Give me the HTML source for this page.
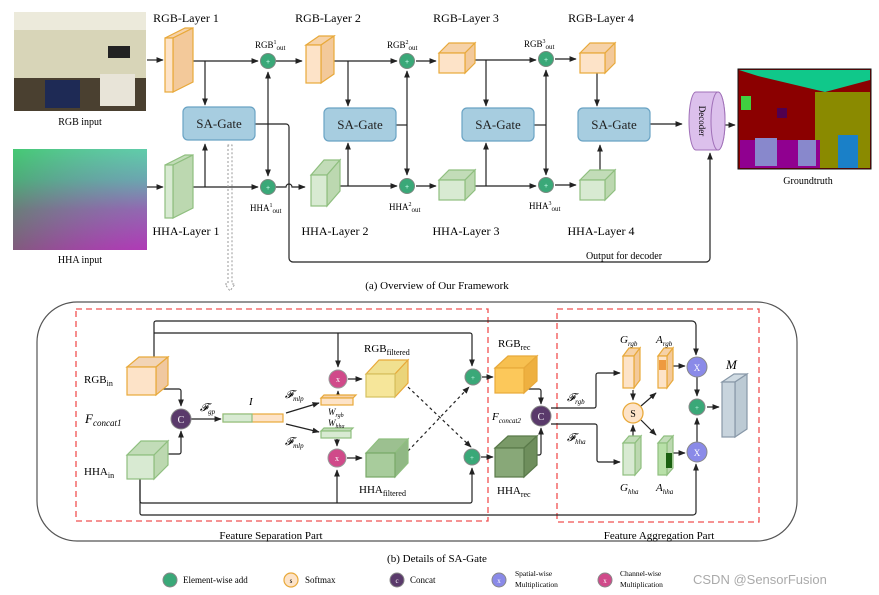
<!DOCTYPE html>
<html><head><meta charset="utf-8"><style>
html,body{margin:0;padding:0;background:#fff}
svg{display:block;font-family:"Liberation Serif",serif}
</style></head><body>
<svg width="879" height="595" viewBox="0 0 879 595" xmlns="http://www.w3.org/2000/svg">
<defs>
<marker id="a" viewBox="0 0 10 10" refX="9" refY="5" markerWidth="6" markerHeight="6" orient="auto-start-reverse"><path d="M0,1 L10,5 L0,9 z" fill="#222"/></marker>
<linearGradient id="hha" x1="0" y1="0" x2="0" y2="1"><stop offset="0" stop-color="#4ce8a0"/><stop offset="0.3" stop-color="#5ab8a8"/><stop offset="0.6" stop-color="#8a6aaa"/><stop offset="1" stop-color="#b030b0"/></linearGradient>
<linearGradient id="hha2" x1="0" y1="0" x2="1" y2="0"><stop offset="0" stop-color="#3a9a30" stop-opacity="0.4"/><stop offset="1" stop-color="#b060d0" stop-opacity="0.2"/></linearGradient>
</defs>
<g stroke="#222" stroke-width="1.2" fill="none">
<!-- top connectors -->
<path d="M147,60 H163" marker-end="url(#a)"/>
<path d="M181,61 H258" marker-end="url(#a)"/>
<path d="M205,61 V105" marker-end="url(#a)"/>
<path d="M147,187 H163" marker-end="url(#a)"/>
<path d="M185,187 H258" marker-end="url(#a)"/>
<path d="M205,187 V144" marker-end="url(#a)"/>
<path d="M268,72 V176" marker-start="url(#a)" marker-end="url(#a)"/>
<path d="M276,61 H302" marker-end="url(#a)"/>
<path d="M276,187 H286 a3,3 0 0 1 6,0 H305" marker-end="url(#a)"/>
<path d="M255,124 H286 a3,3 0 0 1 3,3 V258 a4,4 0 0 0 4,4 H706 a4,4 0 0 0 4,-4 V153" marker-end="url(#a)"/>
<path d="M328,61 H397" marker-end="url(#a)"/>
<path d="M348,61 V106" marker-end="url(#a)"/>
<path d="M332,186 H397" marker-end="url(#a)"/>
<path d="M348,186 V143" marker-end="url(#a)"/>
<path d="M407,71 V175" marker-start="url(#a)" marker-end="url(#a)"/>
<path d="M396,125 H407"/>
<path d="M416,61 H436" marker-end="url(#a)"/>
<path d="M416,186 H436" marker-end="url(#a)"/>
<path d="M467,60 H536" marker-end="url(#a)"/>
<path d="M486,60 V106" marker-end="url(#a)"/>
<path d="M467,186 H536" marker-end="url(#a)"/>
<path d="M486,186 V143" marker-end="url(#a)"/>
<path d="M546,70 V175" marker-start="url(#a)" marker-end="url(#a)"/>
<path d="M534,125 H546"/>
<path d="M555,59 H576" marker-end="url(#a)"/>
<path d="M555,185 H576" marker-end="url(#a)"/>
<path d="M597,73 V106" marker-end="url(#a)"/>
<path d="M600,170 V145" marker-end="url(#a)"/>
<path d="M650,124 H682" marker-end="url(#a)"/>
<path d="M720,125 H735" marker-end="url(#a)"/>
</g>
<!-- dashed hollow arrow -->
<path d="M228,145 V284 L225,284 L230,291 L235,284 L232,284 V145 Z" fill="none" stroke="#999" stroke-width="1" stroke-dasharray="2,2"/>
<!-- images -->
<rect x="14" y="12" width="132" height="99" fill="#d8d5b8"/>
<rect x="14" y="12" width="132" height="18" fill="#eceadb"/>
<rect x="14" y="78" width="132" height="33" fill="#4a4030"/>
<rect x="45" y="80" width="35" height="28" fill="#1e2a55"/>
<rect x="100" y="74" width="35" height="32" fill="#e8e4d8"/>
<rect x="108" y="46" width="22" height="12" fill="#222"/>
<rect x="13" y="149" width="134" height="101" fill="url(#hha)"/>
<rect x="13" y="149" width="134" height="101" fill="url(#hha2)"/>
<rect x="738" y="69" width="133" height="100" fill="#8b0000" stroke="#111" stroke-width="1"/>
<polygon points="739,70 870,70 870,80 825,92 758,76" fill="#10c88a"/>
<rect x="815" y="92" width="55" height="76" fill="#8a8a00"/>
<rect x="838" y="135" width="20" height="33" fill="#1a80c8"/>
<rect x="740" y="140" width="80" height="28" fill="#900090"/>
<rect x="755" y="138" width="22" height="28" fill="#8888cc"/>
<rect x="798" y="140" width="18" height="26" fill="#8888cc"/>
<rect x="741" y="96" width="10" height="14" fill="#40d040"/>
<rect x="777" y="108" width="10" height="10" fill="#500050"/>
<text x="80" y="125" font-size="10" text-anchor="middle">RGB input</text>
<text x="80" y="263" font-size="10" text-anchor="middle">HHA input</text>
<text x="808" y="184" font-size="10" text-anchor="middle">Groundtruth</text>
<!-- layers -->
<g stroke="#e8a93a" stroke-width="1.2">
<polygon points="165,38 185,28 193,28 173,38" fill="#f6d2a8"/><polygon points="173,38 193,28 193,82 173,92" fill="#f3c99a"/><rect x="165" y="38" width="8" height="54" fill="#fde3c8"/>
<polygon points="306,45 319,36 334,36 321,45" fill="#f6d2a8"/><polygon points="321,45 334,36 334,74 321,83" fill="#f3c99a"/><rect x="306" y="45" width="15" height="38" fill="#fde3c8"/>
<polygon points="439,53 449,43 475,43 465,53" fill="#f6d2a8"/><polygon points="465,53 475,43 475,63 465,73" fill="#f3c99a"/><rect x="439" y="53" width="26" height="20" fill="#fde3c8"/>
<polygon points="580,53 590,43 615,43 605,53" fill="#f6d2a8"/><polygon points="605,53 615,43 615,63 605,73" fill="#f3c99a"/><rect x="580" y="53" width="25" height="20" fill="#fde3c8"/>
</g>
<g stroke="#8fbf7f" stroke-width="1.2">
<polygon points="165,165 185,155 193,155 173,165" fill="#c2dcb8"/><polygon points="173,165 193,155 193,208 173,218" fill="#bcd8b0"/><rect x="165" y="165" width="8" height="53" fill="#d8ead2"/>
<polygon points="311,175 324,160 340,160 327,175" fill="#c2dcb8"/><polygon points="327,175 340,160 340,191 327,206" fill="#bcd8b0"/><rect x="311" y="175" width="16" height="31" fill="#d8ead2"/>
<polygon points="439,180 449,170 475,170 465,180" fill="#c2dcb8"/><polygon points="465,180 475,170 475,190 465,200" fill="#bcd8b0"/><rect x="439" y="180" width="26" height="20" fill="#d8ead2"/>
<polygon points="580,180 590,170 615,170 605,180" fill="#c2dcb8"/><polygon points="605,180 615,170 615,190 605,200" fill="#bcd8b0"/><rect x="580" y="180" width="25" height="20" fill="#d8ead2"/>
</g>
<g font-size="12" text-anchor="middle">
<text x="186" y="22">RGB-Layer 1</text><text x="328" y="22">RGB-Layer 2</text><text x="466" y="22">RGB-Layer 3</text><text x="601" y="22">RGB-Layer 4</text>
<text x="186" y="235">HHA-Layer 1</text><text x="335" y="235">HHA-Layer 2</text><text x="466" y="235">HHA-Layer 3</text><text x="601" y="235">HHA-Layer 4</text>
</g>
<!-- SA gates -->
<g fill="#a7cde0" stroke="#6aa3c4" stroke-width="1.2">
<rect x="183" y="107" width="72" height="33" rx="5"/><rect x="324" y="108" width="72" height="33" rx="5"/><rect x="462" y="108" width="72" height="33" rx="5"/><rect x="578" y="108" width="72" height="33" rx="5"/>
</g>
<g font-size="13" text-anchor="middle" fill="#222">
<text x="219" y="128">SA-Gate</text><text x="360" y="129">SA-Gate</text><text x="498" y="129">SA-Gate</text><text x="614" y="129">SA-Gate</text>
</g>
<!-- plus circles top -->
<g fill="#3aa878" stroke="#7a8a80" stroke-width="1">
<circle cx="268" cy="61" r="7.5"/><circle cx="268" cy="187" r="7.5"/><circle cx="407" cy="61" r="7.5"/><circle cx="407" cy="186" r="7.5"/><circle cx="546" cy="59" r="7.5"/><circle cx="546" cy="185" r="7.5"/>
</g>
<g fill="#cfe" font-size="7" text-anchor="middle" font-family="Liberation Sans,sans-serif">
<text x="268" y="64">+</text><text x="268" y="190">+</text><text x="407" y="64">+</text><text x="407" y="189">+</text><text x="546" y="62">+</text><text x="546" y="188">+</text>
</g>
<g font-size="9">
<text x="255" y="48">RGB<tspan font-size="6" dy="-4">1</tspan><tspan font-size="7" dy="6">out</tspan></text>
<text x="250" y="211">HHA<tspan font-size="6" dy="-4">1</tspan><tspan font-size="7" dy="6">out</tspan></text>
<text x="387" y="48">RGB<tspan font-size="6" dy="-4">2</tspan><tspan font-size="7" dy="6">out</tspan></text>
<text x="389" y="210">HHA<tspan font-size="6" dy="-4">2</tspan><tspan font-size="7" dy="6">out</tspan></text>
<text x="524" y="47">RGB<tspan font-size="6" dy="-4">3</tspan><tspan font-size="7" dy="6">out</tspan></text>
<text x="529" y="209">HHA<tspan font-size="6" dy="-4">3</tspan><tspan font-size="7" dy="6">out</tspan></text>
</g>
<!-- decoder -->
<path d="M696,92 H718 A7,29 0 0 1 718,150 H696 A7,29 0 0 1 696,92 Z" fill="#dcc0ec" stroke="#a070b8" stroke-width="1"/>
<ellipse cx="718" cy="121" rx="7" ry="29" fill="#dcc0ec" stroke="#a070b8" stroke-width="1"/>
<text transform="translate(699,121) rotate(90)" font-size="9" text-anchor="middle">Decoder</text>
<text x="624" y="259" font-size="10" text-anchor="middle">Output for decoder</text>
<text x="437" y="289" font-size="11" text-anchor="middle">(a) Overview of Our Framework</text>

<!-- bottom frame -->
<rect x="37" y="302" width="760" height="239" rx="40" fill="none" stroke="#555" stroke-width="1.2"/>
<rect x="76" y="309" width="412" height="212" fill="none" stroke="#f05050" stroke-width="1.3" stroke-dasharray="6,4"/>
<rect x="557" y="309" width="202" height="213" fill="none" stroke="#f05050" stroke-width="1.3" stroke-dasharray="6,4"/>
<g stroke="#222" stroke-width="1.2" fill="none">
<path d="M154,357 V323 a2,2 0 0 1 2,-2 H692 a4,4 0 0 1 4,4 V355" marker-end="url(#a)"/>
<path d="M154,333 H470 a2,2 0 0 1 2,2 V366" marker-end="url(#a)"/>
<path d="M338,333 V367" marker-end="url(#a)"/>
<path d="M140,479 V513 a2,2 0 0 0 2,2 H693 a3,3 0 0 0 3,-3 V464" marker-end="url(#a)"/>
<path d="M140,479 V501 a2,2 0 0 0 2,2 H470 a2,2 0 0 0 2,-2 V468" marker-end="url(#a)"/>
<path d="M337,503 V470" marker-end="url(#a)"/>
<path d="M162,389 H179 a2,2 0 0 1 2,2 V406" marker-end="url(#a)"/>
<path d="M168,454 H179 a2,2 0 0 0 2,-2 V431" marker-end="url(#a)"/>
<path d="M191,419 H221" marker-end="url(#a)"/>
<path d="M286,413 L319,403" marker-end="url(#a)"/>
<path d="M286,424 L319,432" marker-end="url(#a)"/>
<path d="M338,398 V391" marker-end="url(#a)"/>
<path d="M337,439 V446" marker-end="url(#a)"/>
<path d="M348,379 H362" marker-end="url(#a)"/>
<path d="M347,458 H362" marker-end="url(#a)"/>
<path d="M408,387 L471,447" stroke-dasharray="3,3" marker-end="url(#a)"/>
<path d="M408,451 L469,387" stroke-dasharray="3,3" marker-end="url(#a)"/>
<path d="M482,377 H493" marker-end="url(#a)"/>
<path d="M481,457 H493" marker-end="url(#a)"/>
<path d="M526,389 H539 a2,2 0 0 1 2,2 V404" marker-end="url(#a)"/>
<path d="M530,455 H539 a2,2 0 0 0 2,-2 V428" marker-end="url(#a)"/>
<path d="M551,408 H594 a2,2 0 0 0 2,-2 V375 a2,2 0 0 1 2,-2 H620" marker-end="url(#a)"/>
<path d="M551,424 H595 a2,2 0 0 1 2,2 V460 a2,2 0 0 0 2,2 H620" marker-end="url(#a)"/>
<path d="M633,390 V400" marker-end="url(#a)"/>
<path d="M633,436 V425" marker-end="url(#a)"/>
<path d="M641,406 L656,393" marker-end="url(#a)"/>
<path d="M641,420 L656,435" marker-end="url(#a)"/>
<path d="M673,366 H685" marker-end="url(#a)"/>
<path d="M673,453 H685" marker-end="url(#a)"/>
<path d="M697,377 V396" marker-end="url(#a)"/>
<path d="M697,442 V418" marker-end="url(#a)"/>
<path d="M707,407 H719" marker-end="url(#a)"/>
</g>
<!-- cubes bottom -->
<g stroke="#e8a93a" stroke-width="1.2">
<polygon points="127,367 139,357 168,357 156,367" fill="#f2d4b6"/><polygon points="156,367 168,357 168,385 156,395" fill="#f0c8a0"/><rect x="127" y="367" width="29" height="28" fill="#fde3c8"/>
<polygon points="366,374 379,360 408,360 395,374" fill="#f0e090"/><polygon points="395,374 408,360 408,383 395,397" fill="#ead47a"/><rect x="366" y="374" width="29" height="23" fill="#f6e69a" stroke="#d4c060"/>
<polygon points="495,368 508,356 537,356 524,368" fill="#f7c050"/><polygon points="524,368 537,356 537,381 524,393" fill="#eeb040"/><rect x="495" y="368" width="29" height="25" fill="#fcc85a"/>
<rect x="223" y="414" width="60" height="8" fill="#fde3c8"/><rect x="223" y="414" width="29" height="8" fill="#d8ead2" stroke="#8fbf7f"/>
<polygon points="321,398 324,395 356,395 353,398" fill="#f6d2a8"/><rect x="321" y="398" width="32" height="7" fill="#fde3c8"/>
<polygon points="623,356 629,348 640,348 634,356" fill="#f6d2a8"/><polygon points="634,356 640,348 640,380 634,388" fill="#f3c99a"/><rect x="623" y="356" width="11" height="32" fill="#fde3c8"/>
<polygon points="658,356 664,348 673,348 667,356" fill="#f6d2a8"/><polygon points="667,356 673,348 673,380 667,388" fill="#f3c99a"/><rect x="658" y="356" width="9" height="32" fill="#fde3c8"/><rect x="659" y="360" width="7" height="10" fill="#ee9a40" stroke="none"/>
</g>
<g stroke="#8fbf7f" stroke-width="1.2">
<polygon points="127,455 141,441 168,441 154,455" fill="#c2dcb8"/><polygon points="154,455 168,441 168,465 154,479" fill="#bcd8b0"/><rect x="127" y="455" width="27" height="24" fill="#d8ead2"/>
<polygon points="366,453 379,439 408,439 395,453" fill="#9cc090"/><polygon points="395,453 408,439 408,463 395,477" fill="#90b884"/><rect x="366" y="453" width="29" height="24" fill="#a8cc9c" stroke="#78a868"/>
<polygon points="495,448 508,436 537,436 524,448" fill="#7a9a68" stroke="#5a7a4a"/><polygon points="524,448 537,436 537,465 524,477" fill="#6e8e5c" stroke="#5a7a4a"/><rect x="495" y="448" width="29" height="29" fill="#88a878" stroke="#5a7a4a"/>
<polygon points="321,431 324,428 353,428 350,431" fill="#c2dcb8"/><rect x="321" y="431" width="30" height="7" fill="#d8ead2"/>
<polygon points="623,443 629,436 641,436 635,443" fill="#c2dcb8"/><polygon points="635,443 641,436 641,468 635,475" fill="#bcd8b0"/><rect x="623" y="443" width="12" height="32" fill="#d8ead2"/>
<polygon points="658,443 664,436 673,436 667,443" fill="#c2dcb8"/><polygon points="667,443 673,436 673,468 667,475" fill="#bcd8b0"/><rect x="658" y="443" width="9" height="32" fill="#b8e0a8"/><rect x="666" y="453" width="6" height="15" fill="#1a6010" stroke="none"/>
</g>
<g stroke="#8898a8" stroke-width="1.2">
<polygon points="722,382 734,374 747,374 735,382" fill="#d0dbe3"/><polygon points="735,382 747,374 747,429 735,437" fill="#bccad4"/><rect x="722" y="382" width="13" height="55" fill="#c8d4dd"/>
</g>
<!-- circles bottom -->
<circle cx="181" cy="419" r="10" fill="#5a3a6b" stroke="#888"/><text x="181" y="423" font-size="10" fill="#fff" text-anchor="middle">C</text>
<circle cx="541" cy="416" r="10" fill="#5a3a6b" stroke="#888"/><text x="541" y="420" font-size="10" fill="#fff" text-anchor="middle">C</text>
<circle cx="338" cy="379" r="9" fill="#d04a8a" stroke="#999"/><text x="338" y="382" font-size="8" fill="#fff" text-anchor="middle">x</text>
<circle cx="337" cy="458" r="9" fill="#d04a8a" stroke="#999"/><text x="337" y="461" font-size="8" fill="#fff" text-anchor="middle">x</text>
<circle cx="473" cy="377" r="8" fill="#3aa878" stroke="#888"/><text x="473" y="380" font-size="7" fill="#cfe" text-anchor="middle">+</text>
<circle cx="472" cy="457" r="8" fill="#3aa878" stroke="#888"/><text x="472" y="460" font-size="7" fill="#cfe" text-anchor="middle">+</text>
<circle cx="697" cy="407" r="8" fill="#3aa878" stroke="#888"/><text x="697" y="410" font-size="7" fill="#cfe" text-anchor="middle">+</text>
<circle cx="633" cy="413" r="10" fill="#fde3c8" stroke="#e8a93a" stroke-width="1.3"/><text x="633" y="417" font-size="10" text-anchor="middle">S</text>
<circle cx="697" cy="367" r="10" fill="#8a8ae8" stroke="#888"/><text x="697" y="371" font-size="9" fill="#fff" text-anchor="middle">X</text>
<circle cx="697" cy="452" r="10" fill="#8a8ae8" stroke="#888"/><text x="697" y="456" font-size="9" fill="#fff" text-anchor="middle">X</text>
<!-- bottom labels -->
<g font-size="11">
<text x="84" y="383">RGB<tspan font-size="8" dy="3">in</tspan></text>
<text x="84" y="475">HHA<tspan font-size="8" dy="3">in</tspan></text>
<text x="85" y="423" font-style="italic" font-size="13">F<tspan font-size="9" dy="3">concat1</tspan></text>
<text x="492" y="420" font-style="italic" font-size="11">F<tspan font-size="7" dy="3">concat2</tspan></text>
<text x="200" y="411" font-style="italic">𝓕<tspan font-size="7" dy="3">gp</tspan></text>
<text x="249" y="405" font-style="italic">I</text>
<text x="285" y="398" font-style="italic">𝓕<tspan font-size="7" dy="3">mlp</tspan></text>
<text x="285" y="445" font-style="italic">𝓕<tspan font-size="7" dy="3">mlp</tspan></text>
<text x="328" y="415" font-style="italic" font-size="9">W<tspan font-size="6" dy="2">rgb</tspan></text>
<text x="328" y="426" font-style="italic" font-size="9">W<tspan font-size="6" dy="2">hha</tspan></text>
<text x="364" y="352">RGB<tspan font-size="8" dy="3">filtered</tspan></text>
<text x="359" y="493">HHA<tspan font-size="8" dy="3">filtered</tspan></text>
<text x="498" y="347">RGB<tspan font-size="8" dy="3">rec</tspan></text>
<text x="497" y="494">HHA<tspan font-size="8" dy="3">rec</tspan></text>
<text x="567" y="401" font-style="italic">𝓕<tspan font-size="7" dy="3">rgb</tspan></text>
<text x="567" y="441" font-style="italic">𝓕<tspan font-size="7" dy="3">hha</tspan></text>
<text x="620" y="343" font-style="italic">G<tspan font-size="7" dy="3">rgb</tspan></text>
<text x="656" y="343" font-style="italic">A<tspan font-size="7" dy="3">rgb</tspan></text>
<text x="620" y="491" font-style="italic">G<tspan font-size="7" dy="3">hha</tspan></text>
<text x="656" y="491" font-style="italic">A<tspan font-size="7" dy="3">hha</tspan></text>
<text x="726" y="369" font-style="italic" font-size="13">M</text>
</g>
<text x="271" y="539" font-size="11" text-anchor="middle">Feature Separation Part</text>
<text x="659" y="539" font-size="11" text-anchor="middle">Feature Aggregation Part</text>
<text x="437" y="562" font-size="11" text-anchor="middle">(b) Details of SA-Gate</text>
<!-- legend -->
<circle cx="170" cy="580" r="7" fill="#3aa878" stroke="#888"/><text x="183" y="583" font-size="9">Element-wise add</text>
<circle cx="291" cy="580" r="7" fill="#fde3c8" stroke="#e8a93a" stroke-width="1.2"/><text x="291" y="583" font-size="7" text-anchor="middle">s</text><text x="305" y="583" font-size="9">Softmax</text>
<circle cx="397" cy="580" r="7" fill="#5a3a6b" stroke="#888"/><text x="397" y="583" font-size="7" fill="#fff" text-anchor="middle">c</text><text x="410" y="583" font-size="9">Concat</text>
<circle cx="499" cy="580" r="7" fill="#8a8ae8" stroke="#888"/><text x="499" y="583" font-size="7" fill="#fff" text-anchor="middle">x</text>
<text x="515" y="576" font-size="7.5">Spatial-wise</text><text x="515" y="587" font-size="7.5">Multiplication</text>
<circle cx="605" cy="580" r="7" fill="#d04a8a" stroke="#888"/><text x="605" y="583" font-size="7" fill="#fff" text-anchor="middle">x</text>
<text x="620" y="576" font-size="7.5">Channel-wise</text><text x="620" y="587" font-size="7.5">Multiplication</text>
<text x="693" y="584" font-size="13" fill="#aaa" font-family="Liberation Sans,sans-serif">CSDN @SensorFusion</text>
</svg>
</body></html>
